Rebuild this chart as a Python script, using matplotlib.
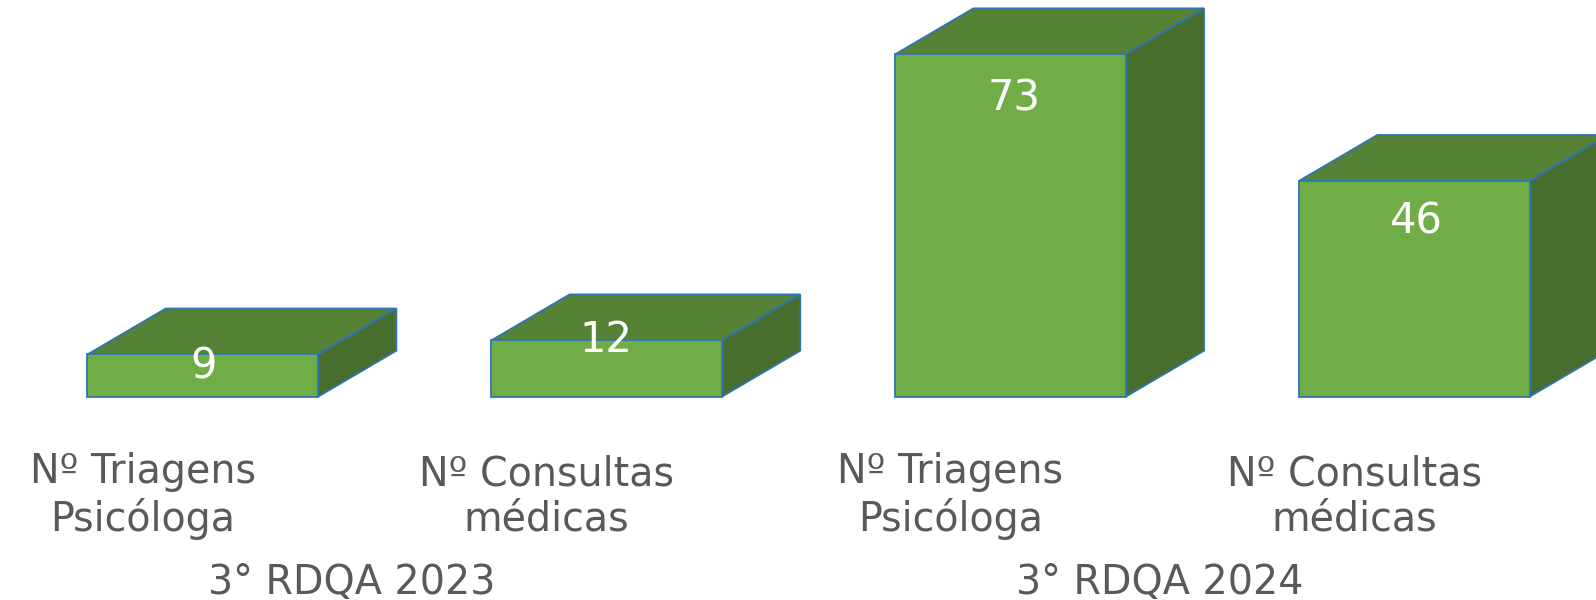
import numpy as np
import matplotlib
matplotlib.use('Agg')
import matplotlib.pyplot as plt
from matplotlib.patches import Polygon

# data
categories = ['Nº Triagens\nPsicóloga', 'Nº Consultas\nmédicas',
              'Nº Triagens\nPsicóloga', 'Nº Consultas\nmédicas']
values = [9, 12, 73, 46]
groups = ['3° RDQA 2023', '3° RDQA 2024']
group_members = [[0, 1], [2, 3]]

# styling
front_color = '#70AD47'
top_color = '#568236'
side_color = '#476E2C'
edge_color = '#2E75B6'
text_gray = '#595959'
bar_width = 0.571
depth_x = 0.194
depth_y = 9.8
# value label offsets (pixels) relative to the top-centre of each bar
value_offsets = [(1, -24), (-1, -12), (4, -56), (2, -53)]

fig = plt.figure(figsize=(15.96, 6.0), dpi=100)
ax = fig.add_axes([0, 0, 1, 1])
ax.set_xlim(-0.502, 3.450)
ax.set_ylim(-43.35, 84.58)
ax.axis('off')

x = np.arange(len(values))

# front faces
ax.bar(x, values, width=bar_width, color=front_color, edgecolor=edge_color,
       linewidth=1.3, zorder=3)

# top and side faces to fake the 3D box
for xi, v in zip(x, values):
    left = xi - bar_width / 2
    right = xi + bar_width / 2
    top = Polygon([(left, v), (right, v), (right + depth_x, v + depth_y), (left + depth_x, v + depth_y)],
                  closed=True, facecolor=top_color, edgecolor=edge_color, linewidth=1.3, zorder=2)
    side = Polygon([(right, 0), (right + depth_x, depth_y), (right + depth_x, v + depth_y), (right, v)],
                   closed=True, facecolor=side_color, edgecolor=edge_color, linewidth=1.3, zorder=2)
    ax.add_patch(top)
    ax.add_patch(side)

# value labels
for xi, v, off in zip(x, values, value_offsets):
    ax.annotate(str(v), xy=(xi, v), xytext=off, textcoords='offset pixels',
                ha='center', va='baseline', fontsize=30, color='white', zorder=5)

# category labels (baseline of the last line is anchored)
for xi, cat in zip(x, categories):
    ax.annotate(cat, xy=(xi, 0), xytext=(-60, -134), textcoords='offset pixels',
                ha='center', va='baseline', fontsize=28.5, color=text_gray, linespacing=1.16)

# group labels
for grp, members in zip(groups, group_members):
    gx = np.mean(x[members])
    ax.annotate(grp, xy=(gx, 0), xytext=(-53, -197), textcoords='offset pixels',
                ha='center', va='baseline', fontsize=28.5, color=text_gray)

fig.savefig('out.png', dpi=100)
